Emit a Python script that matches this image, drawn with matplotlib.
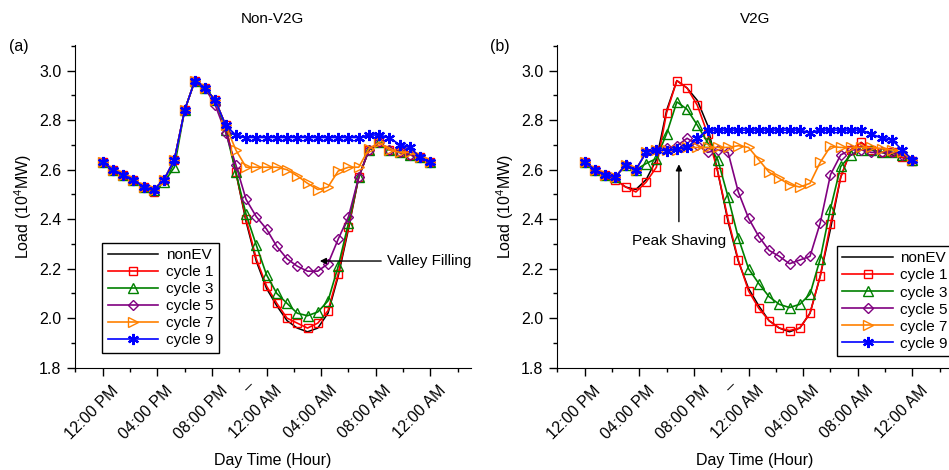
import numpy as np
import matplotlib
matplotlib.use('Agg')
import matplotlib.pyplot as plt
import matplotlib.transforms as mtransforms
from matplotlib.ticker import FixedLocator, FixedFormatter

plt.rcParams['font.family'] = ['Liberation Sans', 'DejaVu Sans']
plt.rcParams['font.size'] = 11.5
plt.rcParams['mathtext.default'] = 'regular'

# time axis: hours after 12:00 PM, one sample every 45 min
hours = np.linspace(0, 24, 33)

tick_hours = [0, 4, 8, 12, 16, 20, 24]
tick_labels = ['12:00 PM', '04:00 PM', '08:00 PM', '12:00 AM', '04:00 AM', '08:00 AM', '12:00 AM']
minor_hours = [-2, 2, 6, 10, 14, 18, 22, 26]
minor_labels = ['', '', '', '\u2013', '', '', '', '']

# base load without EVs (10^4 MW)
non_ev = [2.63, 2.60, 2.58, 2.56, 2.53, 2.52, 2.56, 2.64, 2.84, 2.96, 2.93, 2.88, 2.78,
          2.59, 2.39, 2.23, 2.12, 2.05, 1.99, 1.96, 1.945, 1.96, 2.02, 2.17, 2.36, 2.57,
          2.68, 2.71, 2.68, 2.67, 2.66, 2.65, 2.63]

# (a) Non-V2G
a_cycle1 = [2.63, 2.60, 2.58, 2.56, 2.53, 2.51, 2.56, 2.64, 2.84, 2.96, 2.93, 2.88, 2.78,
            2.59, 2.40, 2.24, 2.13, 2.06, 2.00, 1.98, 1.96, 1.98, 2.03, 2.18, 2.37, 2.57,
            2.68, 2.71, 2.68, 2.67, 2.66, 2.65, 2.63]
a_cycle3 = [2.63, 2.60, 2.58, 2.56, 2.53, 2.52, 2.55, 2.61, 2.84, 2.96, 2.93, 2.88, 2.76,
            2.59, 2.42, 2.295, 2.175, 2.10, 2.06, 2.02, 2.01, 2.025, 2.07, 2.21, 2.385, 2.57,
            2.68, 2.71, 2.68, 2.67, 2.66, 2.65, 2.63]
a_cycle5 = [2.63, 2.60, 2.58, 2.56, 2.53, 2.52, 2.56, 2.64, 2.84, 2.96, 2.93, 2.86, 2.75,
            2.62, 2.48, 2.41, 2.36, 2.29, 2.24, 2.21, 2.19, 2.19, 2.22, 2.32, 2.41, 2.57,
            2.68, 2.71, 2.68, 2.67, 2.66, 2.65, 2.63]
a_cycle7 = [2.63, 2.60, 2.58, 2.56, 2.53, 2.52, 2.56, 2.64, 2.84, 2.96, 2.93, 2.88, 2.78,
            2.68, 2.61, 2.61, 2.61, 2.61, 2.60, 2.575, 2.545, 2.52, 2.53, 2.595, 2.61, 2.61,
            2.685, 2.71, 2.68, 2.67, 2.67, 2.65, 2.63]
a_cycle9 = [2.63, 2.60, 2.58, 2.56, 2.53, 2.52, 2.56, 2.64, 2.84, 2.96, 2.93, 2.88, 2.78,
            2.74, 2.73, 2.73, 2.73, 2.73, 2.73, 2.73, 2.73, 2.73, 2.73, 2.73, 2.73, 2.73,
            2.74, 2.74, 2.73, 2.70, 2.69, 2.65, 2.63]

# (b) V2G
b_cycle1 = [2.63, 2.60, 2.58, 2.56, 2.53, 2.51, 2.55, 2.61, 2.83, 2.96, 2.93, 2.86, 2.745,
            2.59, 2.40, 2.235, 2.11, 2.04, 1.99, 1.96, 1.95, 1.96, 2.02, 2.17, 2.38, 2.57,
            2.68, 2.71, 2.68, 2.67, 2.67, 2.65, 2.635]
b_cycle3 = [2.63, 2.60, 2.58, 2.57, 2.62, 2.60, 2.625, 2.645, 2.745, 2.874, 2.844, 2.78, 2.71,
            2.64, 2.49, 2.325, 2.20, 2.14, 2.087, 2.056, 2.043, 2.056, 2.097, 2.24, 2.443, 2.613,
            2.66, 2.68, 2.68, 2.67, 2.67, 2.66, 2.64]
b_cycle5 = [2.63, 2.60, 2.58, 2.57, 2.62, 2.60, 2.67, 2.68, 2.687, 2.696, 2.727, 2.70, 2.67,
            2.68, 2.67, 2.51, 2.404, 2.33, 2.274, 2.25, 2.22, 2.235, 2.25, 2.385, 2.58, 2.66,
            2.68, 2.68, 2.67, 2.67, 2.67, 2.66, 2.64]
b_cycle7 = [2.63, 2.60, 2.58, 2.57, 2.62, 2.60, 2.67, 2.68, 2.68, 2.68, 2.69, 2.69, 2.69,
            2.69, 2.69, 2.697, 2.69, 2.64, 2.59, 2.565, 2.54, 2.53, 2.545, 2.63, 2.694, 2.69,
            2.69, 2.69, 2.69, 2.685, 2.68, 2.67, 2.64]
b_cycle9 = [2.63, 2.60, 2.58, 2.57, 2.62, 2.60, 2.67, 2.68, 2.677, 2.683, 2.69, 2.727, 2.76,
            2.76, 2.76, 2.76, 2.76, 2.76, 2.76, 2.76, 2.76, 2.76, 2.75, 2.76, 2.76, 2.76,
            2.76, 2.76, 2.745, 2.727, 2.72, 2.68, 2.64]

labels = ['cycle 1', 'cycle 3', 'cycle 5', 'cycle 7', 'cycle 9']
colors = ['#ff0000', '#008000', '#800080', '#ff8000', '#0000ff']
markers = ['s', '^', 'D', '>', (6, 2, 0)]
msizes = [5.5, 6.5, 5.5, 7.5, 8]

fig = plt.figure(figsize=(9.49, 4.70), dpi=100)
ax_a = fig.add_axes([0.0787, 0.2177, 0.4173, 0.6866])
ax_b = fig.add_axes([0.5866, 0.2177, 0.4173, 0.6866])


def draw_panel(ax, series, title, leg_anchor):
    ax.plot(hours, non_ev, color='black', lw=1.1, label='nonEV')
    for vals, lab, c, m, ms in zip(series, labels, colors, markers, msizes):
        ax.plot(hours, vals, color=c, lw=1.2, marker=m, ms=ms, mfc='none',
                mec=c, mew=1.0 if m != markers[-1] else 1.6, label=lab)
    ax.set_xlim(-2.05, 26.95)
    ax.set_ylim(1.8, 3.104)
    ax.spines['top'].set_visible(False)
    ax.spines['right'].set_visible(False)
    ax.set_yticks([1.8, 2.0, 2.2, 2.4, 2.6, 2.8, 3.0])
    ax.set_yticklabels(['1.8', '2.0', '2.2', '2.4', '2.6', '2.8', '3.0'])
    ax.yaxis.set_minor_locator(FixedLocator([1.9, 2.1, 2.3, 2.5, 2.7, 2.9, 3.1]))
    ax.set_xticks(tick_hours)
    ax.set_xticklabels(tick_labels)
    ax.xaxis.set_minor_locator(FixedLocator(minor_hours))
    ax.xaxis.set_minor_formatter(FixedFormatter(minor_labels))
    ax.tick_params(which='major', length=6, width=1)
    ax.tick_params(which='minor', length=3, width=1)
    offset = mtransforms.ScaledTranslation(8 / 100, -2 / 100, fig.dpi_scale_trans)
    for lab in ax.get_xticklabels(which='both'):
        lab.set_rotation(45)
        lab.set_ha('right')
        lab.set_rotation_mode('anchor')
        lab.set_transform(lab.get_transform() + offset)
    ax.set_xlabel('Day Time (Hour)', labelpad=8)
    ax.set_ylabel('Load (10$^4$MW)')
    ax.set_title(title, fontsize=11, pad=16)
    leg = ax.legend(loc='lower left', bbox_to_anchor=leg_anchor, borderaxespad=0,
                    fancybox=False, edgecolor='black', framealpha=1, handlelength=3.3,
                    labelspacing=0.2, borderpad=0.35, handletextpad=0.5, fontsize=11)
    leg.get_frame().set_linewidth(1.0)


draw_panel(ax_a, [a_cycle1, a_cycle3, a_cycle5, a_cycle7, a_cycle9], 'Non-V2G', (0.07, 0.046))
draw_panel(ax_b, [b_cycle1, b_cycle3, b_cycle5, b_cycle7, b_cycle9], 'V2G', (0.708, 0.036))

# annotations
ax_a.annotate('Valley Filling', xy=(15.9, 2.231), xytext=(20.8, 2.231),
              va='center', ha='left', fontsize=11,
              arrowprops=dict(arrowstyle='-|>', color='black', lw=1, mutation_scale=9,
                              shrinkA=2, shrinkB=0))
ax_b.annotate('', xy=(6.9, 2.622), xytext=(6.9, 2.39),
              arrowprops=dict(arrowstyle='-|>', color='black', lw=1, mutation_scale=9,
                              shrinkA=0, shrinkB=0))
ax_b.text(6.9, 2.313, 'Peak Shaving', ha='center', va='center', fontsize=11)

fig.text(0.009, 0.90, '(a)', ha='left', va='center')
fig.text(0.516, 0.90, '(b)', ha='left', va='center')

fig.savefig('out.png', dpi=100)
